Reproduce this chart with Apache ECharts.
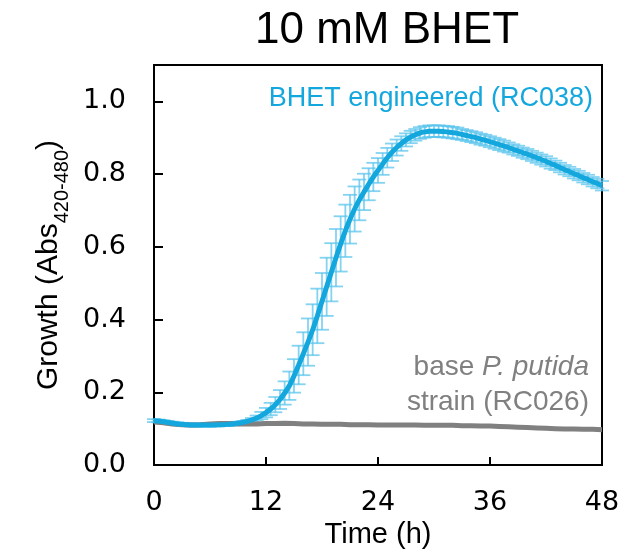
<!DOCTYPE html>
<html>
<head>
<meta charset="utf-8">
<script src="https://cdn.jsdelivr.net/npm/echarts@6/dist/echarts.min.js"></script>
<style>html,body{margin:0;padding:0;background:#fff}#c{width:625px;height:558px}</style>
</head>
<body>
<div id="c"></div>
<script>
// ---- data ----
const titleText = '10 mM BHET';
const xTicks = [0, 12, 24, 36, 48];
const yTicks = [0, 0.2, 0.4, 0.6, 0.8, 1.0];
const blueStep = 0.5; // hours between blue readings (t = 0 .. 48)
const blueMean = [
 0.122,0.121,0.119,0.117,0.115,0.113,0.112,0.111,0.110,0.110,
 0.110,0.110,0.110,0.110,0.111,0.111,0.112,0.113,0.115,0.117,
 0.120,0.124,0.129,0.136,0.144,0.154,0.166,0.180,0.198,0.218,
 0.245,0.275,0.306,0.338,0.372,0.410,0.450,0.490,0.530,0.570,
 0.608,0.644,0.676,0.704,0.729,0.751,0.772,0.792,0.810,0.828,
 0.845,0.860,0.873,0.884,0.894,0.902,0.908,0.913,0.916,0.918,
 0.918,0.918,0.917,0.916,0.914,0.912,0.909,0.906,0.903,0.900,
 0.896,0.893,0.889,0.885,0.881,0.877,0.873,0.868,0.864,0.859,
 0.855,0.850,0.845,0.840,0.835,0.829,0.824,0.818,0.812,0.807,
 0.801,0.796,0.790,0.785,0.779,0.774,0.768
];
const blueErr = [
 0.004,0.004,0.004,0.004,0.004,0.004,0.004,0.004,0.004,0.004,
 0.004,0.004,0.004,0.004,0.004,0.004,0.004,0.004,0.004,0.004,
 0.004,0.005,0.007,0.010,0.013,0.017,0.021,0.026,0.032,0.039,
 0.046,0.053,0.059,0.065,0.070,0.075,0.078,0.080,0.080,0.079,
 0.076,0.072,0.067,0.062,0.056,0.050,0.044,0.039,0.034,0.030,
 0.027,0.024,0.022,0.020,0.018,0.017,0.016,0.016,0.016,0.016,
 0.016,0.016,0.016,0.016,0.016,0.016,0.015,0.015,0.015,0.015,
 0.015,0.015,0.015,0.015,0.015,0.015,0.014,0.014,0.014,0.014,
 0.014,0.014,0.014,0.014,0.014,0.014,0.013,0.013,0.013,0.013,
 0.013,0.013,0.013,0.013,0.013,0.013,0.013
];
const grayStep = 1; // hours between gray readings
const grayMean = [
 0.118,0.116,0.113,0.111,0.110,0.111,0.113,0.114,0.114,0.113,
 0.113,0.113,0.114,0.114,0.115,0.114,0.113,0.113,0.112,0.112,
 0.112,0.111,0.111,0.111,0.110,0.110,0.110,0.110,0.110,0.109,
 0.109,0.109,0.109,0.108,0.108,0.107,0.107,0.106,0.105,0.104,
 0.103,0.102,0.101,0.100,0.099,0.099,0.098,0.098,0.097
];
const blueLabel = 'BHET engineered (RC038)';
const grayLabel1 = 'base ';
const grayLabelItalic = 'P. putida';
const grayLabel2 = 'strain (RC026)';

// ---- build ----
const blueColor = '#14a7dd';
const barColor = '#5ac4ec';
const grayColor = '#808080';
const blueLine = blueMean.map((v, i) => [i * blueStep, v]);
const blueBars = blueMean.map((v, i) => [i * blueStep, v, blueErr[i]]);
const grayLine = grayMean.map((v, i) => [i * grayStep, v]);

const chart = echarts.init(document.getElementById('c'), null, {renderer: 'canvas'});
const tickFont = 'DejaVu Sans';
const txtFont = 'Liberation Sans';

chart.setOption({
  animation: false,
  backgroundColor: '#fff',
  title: {
    text: titleText, left: 382, top: 4, textAlign: 'center',
    textStyle: {fontFamily: txtFont, fontSize: 44, fontWeight: 'normal', color: '#000'}
  },
  grid: {left: 154, right: 23, top: 65, bottom: 93, show: true, borderColor: '#000', borderWidth: 2, backgroundColor: 'transparent'},
  xAxis: {
    type: 'value', min: 0, max: 48, interval: 12,
    name: 'Time (h)', nameLocation: 'middle', nameGap: 52,
    nameTextStyle: {fontFamily: txtFont, fontSize: 29, color: '#000'},
    axisLine: {show: true, lineStyle: {color: '#000', width: 2}},
    axisTick: {show: true, inside: true, length: 8, lineStyle: {color: '#000', width: 2}, customValues: xTicks},
    axisLabel: {fontFamily: tickFont, fontSize: 27, color: '#000', margin: 24, customValues: xTicks},
    splitLine: {show: false}
  },
  yAxis: {
    type: 'value', min: 0, max: 1.1, interval: 0.2,
    name: 'Growth (Abs{sub|420-480})', nameLocation: 'middle', nameGap: 88, nameRotate: 90,
    nameTextStyle: {fontFamily: txtFont, fontSize: 30, color: '#000',
      rich: {sub: {fontFamily: txtFont, fontSize: 20, color: '#000', verticalAlign: 'bottom', padding: [0, 0, -8, 0]}}},
    axisLine: {show: true, lineStyle: {color: '#000', width: 2}},
    axisTick: {show: true, inside: true, length: 9, lineStyle: {color: '#000', width: 2}, customValues: yTicks},
    axisLabel: {fontFamily: tickFont, fontSize: 27, color: '#000', margin: 28, customValues: yTicks,
      formatter: v => Number(v).toFixed(1)},
    splitLine: {show: false}
  },
  series: [
    {
      type: 'custom', name: 'blueErr', data: blueBars, z: 2, clip: false,
      encode: {x: 0, y: 1},
      renderItem: function (params, api) {
        const x = api.value(0), m = api.value(1), s = api.value(2);
        const top = api.coord([x, m + s]);
        const bot = api.coord([x, m - s]);
        const hw = 7;
        const st = {stroke: barColor, lineWidth: 1.8, opacity: 0.75};
        return {type: 'group', children: [
          {type: 'line', shape: {x1: top[0], y1: top[1], x2: bot[0], y2: bot[1]}, style: st},
          {type: 'line', shape: {x1: top[0] - hw, y1: top[1], x2: top[0] + hw, y2: top[1]}, style: st},
          {type: 'line', shape: {x1: bot[0] - hw, y1: bot[1], x2: bot[0] + hw, y2: bot[1]}, style: st}
        ]};
      }
    },
    {
      type: 'line', name: 'gray', data: grayLine, z: 3, showSymbol: false, smooth: false,
      lineStyle: {color: grayColor, width: 5}
    },
    {
      type: 'line', name: 'blue', data: blueLine, z: 4, showSymbol: false, smooth: 0.2,
      lineStyle: {color: blueColor, width: 5}
    }
  ],
  graphic: [
    {type: 'text', z: 10, style: {x: 593, y: 99, text: blueLabel, textAlign: 'right', textVerticalAlign: 'middle',
      font: '27px "Liberation Sans"', fill: blueColor}},
    {type: 'text', z: 10, style: {x: 589, y: 367, text: '{n|' + grayLabel1 + '}{i|' + grayLabelItalic + '}',
      textAlign: 'right', textVerticalAlign: 'middle', font: '28px "Liberation Sans"', fill: grayColor,
      rich: {n: {fontFamily: txtFont, fontSize: 28, fill: grayColor, color: grayColor},
             i: {fontFamily: txtFont, fontSize: 28, fontStyle: 'italic', fill: grayColor, color: grayColor}}}},
    {type: 'text', z: 10, style: {x: 589, y: 402, text: grayLabel2, textAlign: 'right', textVerticalAlign: 'middle',
      font: '28px "Liberation Sans"', fill: grayColor}}
  ]
});
</script>
</body>
</html>
